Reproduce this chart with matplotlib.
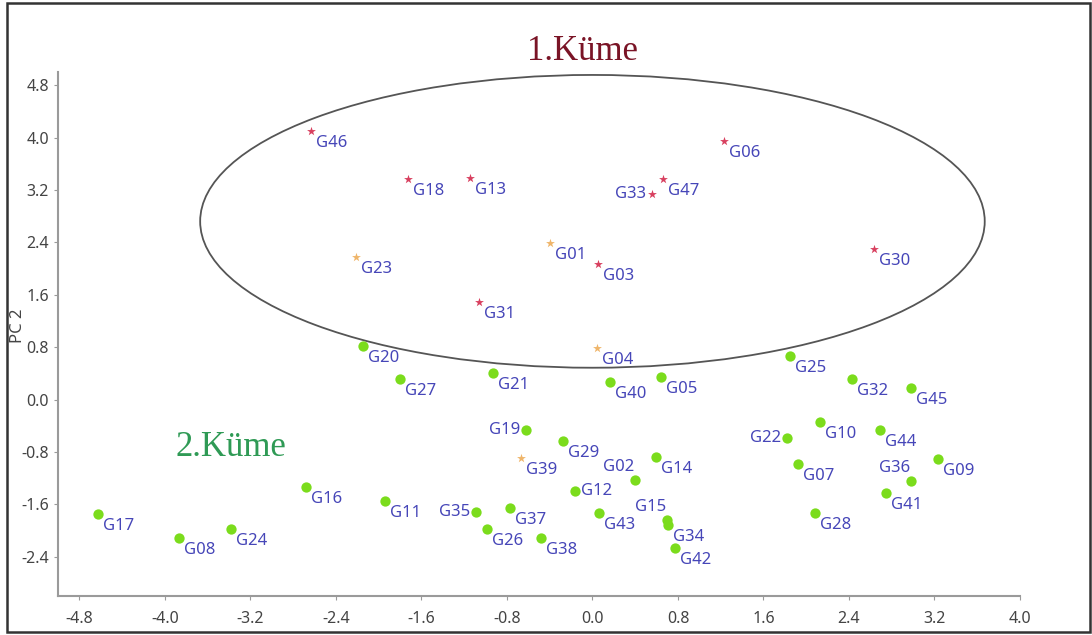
import matplotlib
matplotlib.use("Agg")
import matplotlib.pyplot as plt
from matplotlib.patches import Ellipse, Rectangle

# genotype scores on PC1 / PC2
names = ["G46", "G18", "G13", "G33", "G47", "G06", "G03", "G31", "G30",
         "G23", "G01", "G04", "G39",
         "G20", "G27", "G21", "G40", "G05", "G25", "G32", "G45",
         "G19", "G29", "G14", "G02", "G12", "G22", "G10", "G44", "G07", "G09",
         "G36", "G41", "G28", "G17", "G08", "G24", "G16", "G11", "G35", "G37",
         "G26", "G38", "G43", "G15", "G34", "G42"]
pc1 = [-2.63, -1.73, -1.15, 0.56, 0.66, 1.23, 0.05, -1.06, 2.63,
       -2.21, -0.40, 0.04, -0.67,
       -2.15, -1.80, -0.93, 0.16, 0.64, 1.85, 2.43, 2.98,
       -0.62, -0.28, 0.59, 0.40, -0.16, 1.82, 2.13, 2.69, 1.92, 3.23,
       2.98, 2.75, 2.08, -4.63, -3.87, -3.38, -2.68, -1.94, -1.09, -0.77,
       -0.99, -0.48, 0.06, 0.70, 0.71, 0.77]
pc2 = [4.10, 3.37, 3.38, 3.14, 3.37, 3.95, 2.07, 1.49, 2.30,
       2.18, 2.39, 0.79, -0.90,
       0.82, 0.32, 0.40, 0.26, 0.35, 0.66, 0.32, 0.17,
       -0.47, -0.63, -0.88, -1.23, -1.39, -0.59, -0.34, -0.46, -0.98, -0.91,
       -1.25, -1.43, -1.74, -1.75, -2.12, -1.98, -1.34, -1.55, -1.72, -1.65,
       -1.98, -2.12, -1.74, -1.84, -1.92, -2.26]
# group: r = red star, o = orange star, g = green dot
group = ["r"] * 9 + ["o"] * 4 + ["g"] * 34

left_labels = {"G33", "G19", "G35", "G22"}
upper_labels = {"G02", "G15", "G36"}
right_level = {"G12"}

xticks = [-4.8, -4.0, -3.2, -2.4, -1.6, -0.8, 0.0, 0.8, 1.6, 2.4, 3.2, 4.0]
yticks = [-2.4, -1.6, -0.8, 0.0, 0.8, 1.6, 2.4, 3.2, 4.0, 4.8]

fig = plt.figure(figsize=(10.92, 6.35), dpi=100)
ax = fig.add_axes([58 / 1092, 39 / 635, 962 / 1092, 524 / 635])

styles = {
    "r": dict(marker="*", color="#d8405f", s=45),
    "o": dict(marker="*", color="#efb56a", s=45),
    "g": dict(marker="o", color="#7bdc1c", s=55),
}
for g in ["g", "r", "o"]:
    xs = [x for x, k in zip(pc1, group) if k == g]
    ys = [y for y, k in zip(pc2, group) if k == g]
    ax.scatter(xs, ys, linewidths=0, zorder=3, **styles[g])

for n, x, y in zip(names, pc1, pc2):
    if n in left_labels:
        off, ha = (-6, 0), "right"
    elif n in upper_labels:
        off, ha = (-1, 13), "right"
    elif n in right_level:
        off, ha = (6, 0), "left"
    else:
        off, ha = (5, -12), "left"
    ax.annotate(n, (x, y), textcoords="offset pixels", xytext=off, ha=ha,
                va="center", fontsize=12, color="#4646b8", family="Noto Sans")

ax.add_patch(Ellipse((0.0, 2.72), 7.34, 4.47, fill=False, edgecolor="#555555",
                     lw=1.3, zorder=2))

ax.set_xlim(-5.0, 4.0)
ax.set_ylim(-3.0, 5.0)
ax.set_xticks(xticks)
ax.set_yticks(yticks)
ax.set_xticklabels([f"{v:.1f}" for v in xticks])
ax.set_yticklabels([f"{v:.1f}" for v in yticks])
for sp in ["top", "right"]:
    ax.spines[sp].set_visible(False)
for sp in ["left", "bottom"]:
    ax.spines[sp].set_color("#9a9a9a")
    ax.spines[sp].set_linewidth(1.5)
ax.tick_params(length=3, color="#9a9a9a", labelsize=11.5, labelcolor="#444444")
ax.tick_params(axis="x", pad=8)
for lab in ax.get_xticklabels() + ax.get_yticklabels():
    lab.set_family("Noto Sans")
ax.set_ylabel("PC 2", fontsize=12, color="#444444", family="Noto Sans")
ax.yaxis.set_label_coords(-0.033, 0.515)

fig.text(582 / 1092, 1 - 52 / 635, "1.Küme", ha="center", va="center",
         fontsize=25, color="#7a1426", family="Liberation Serif")
fig.text(175 / 1092, 1 - 447 / 635, "2.Küme", ha="left", va="center",
         fontsize=25, color="#2f9a55", family="Liberation Serif")

fig.patches.append(Rectangle((7 / 1092, 3 / 635), 1083 / 1092, 629 / 635,
                             transform=fig.transFigure, fill=False,
                             edgecolor="#333333", lw=1.8))

fig.savefig("out.png", dpi=100)
